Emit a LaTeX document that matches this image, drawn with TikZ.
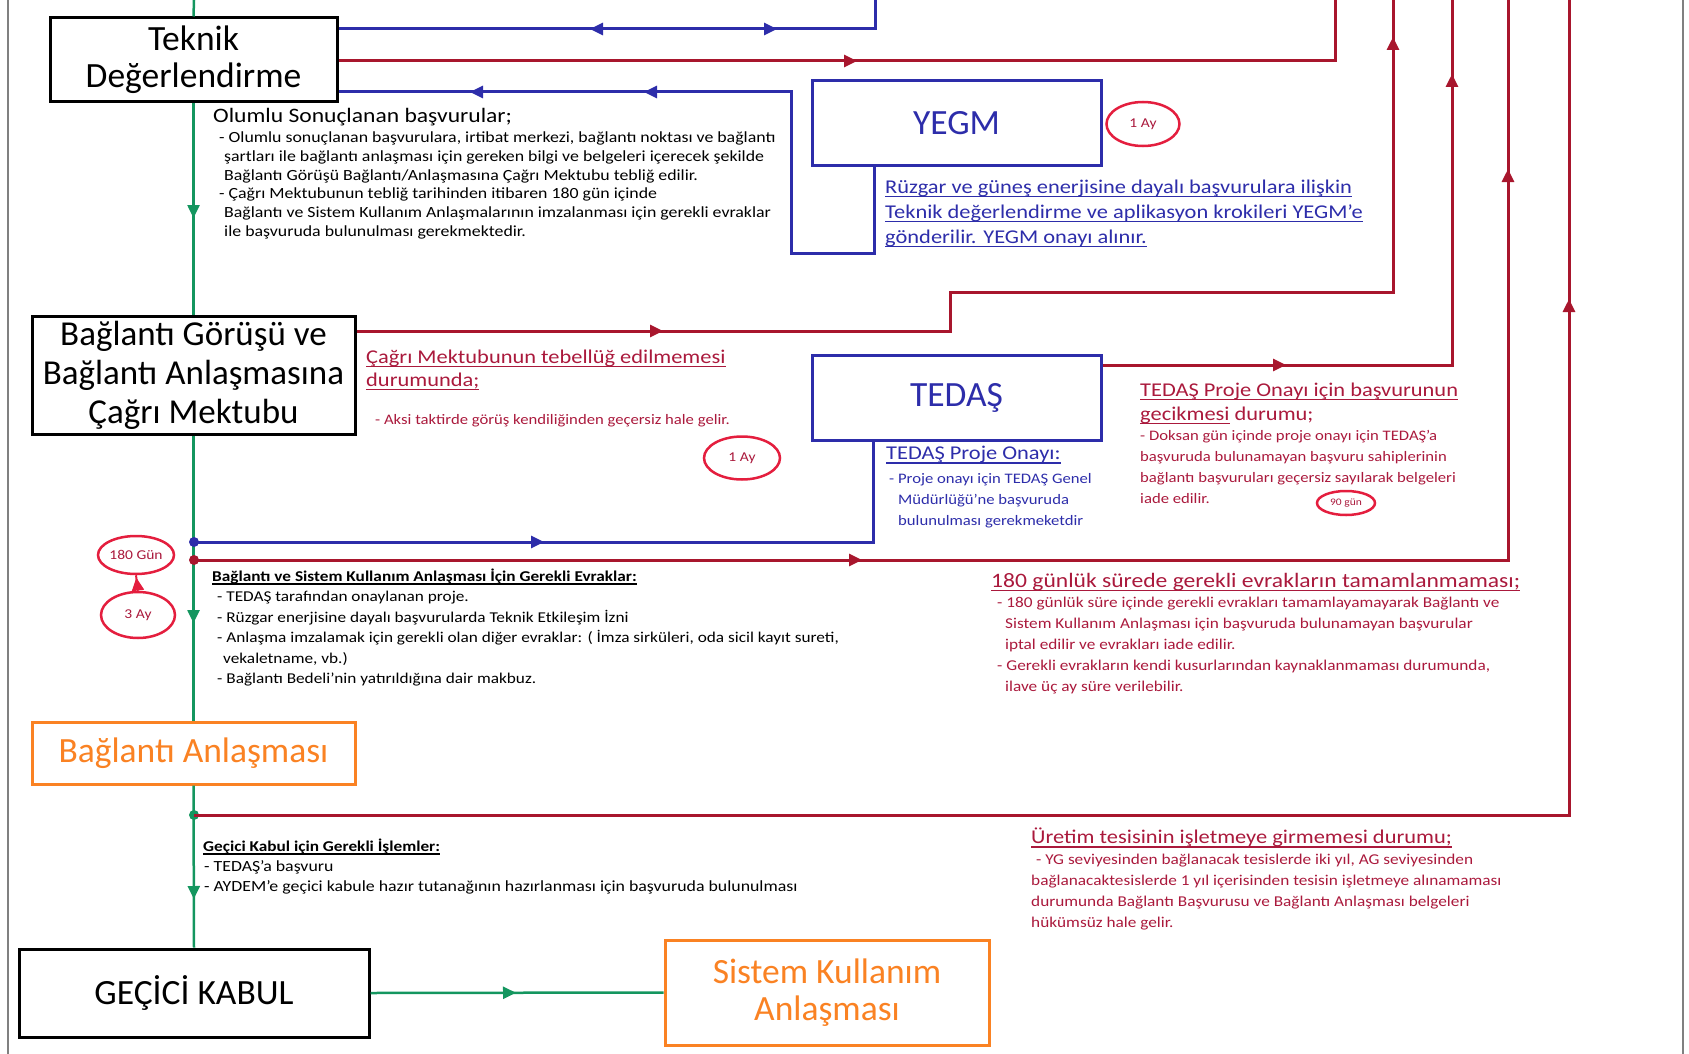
\documentclass[tikz,border=0pt]{standalone}
\usepackage{fontspec}
\setmainfont{Carlito}
\newfontfamily\widefont{Carlito}[FakeStretch=1.15]
\usetikzlibrary{arrows.meta,%
                shapes.geometric,decorations.markings}

\definecolor{lineblue}{RGB}{45,45,170}
\definecolor{linered}{RGB}{168,22,45}
\definecolor{ovalred}{RGB}{228,30,62}
\definecolor{textred}{RGB}{170,25,60}
\definecolor{trunkgreen}{RGB}{20,150,95}
\definecolor{boxorange}{RGB}{250,130,35}
\newsavebox{\ulbox}
\newcommand{\uln}[1]{\sbox{\ulbox}{#1}\rlap{\rule[-0.2em]{\wd\ulbox}{1.4pt}}\usebox{\ulbox}}
\newcommand{\fs}[2]{\widefont\fontsize{#1}{#2}\selectfont}

\tikzset{
  box/.style={draw, line width=3pt, fill=white, align=center, inner sep=0pt,
              font=\fontsize{35.5}{38}\selectfont},
  oval/.style={ellipse, draw=ovalred, line width=2.5pt, fill=white, inner sep=0pt,
               text=textred, font=\fs{13.5}{14}},
  txt/.style={anchor=north west, inner sep=0pt, align=left},
  hdr/.style={anchor=west, inner sep=0pt},
  bl/.style={draw=lineblue, line width=3pt},
  rl/.style={draw=linered, line width=3pt},
  gl/.style={draw=trunkgreen, line width=2.5pt},
  fwd/.style={postaction={decorate,decoration={markings,
      mark=at position #1 with {\arrow{Triangle[length=13pt,width=12pt]}}}}},
  bwd/.style={postaction={decorate,decoration={markings,
      mark=at position #1 with {\arrowreversed{Triangle[length=13pt,width=12pt]}}}}},
  joint/.style={circle, inner sep=0pt, minimum size=10pt},
}

\begin{document}
\begin{tikzpicture}[x=1pt,y=-1pt]
\useasboundingbox (0,0) rectangle (1689,1054);
%\draw[help lines] (0,0) grid[step=100] (1689,1054);
\draw[gray, line width=2.5pt] (8,0) -- (8,1054);
\draw[gray, line width=2.5pt] (1683,0) -- (1683,1054);

\node[box, minimum width=287pt, minimum height=84pt, font=\fontsize{35.5}{37}\selectfont] (teknik) at (193.5,60) {Teknik\\Değerlendirme};
\node[box, minimum width=323pt, minimum height=118pt, font=\fontsize{35}{39}\selectfont] (gorus) at (193.5,375) {Bağlantı Görüşü ve\\Bağlantı Anlaşmasına\\Çağrı Mektubu};
\node[box, draw=boxorange, text=boxorange, minimum width=323pt, minimum height=62pt] (anlasma) at (193.5,753) {Bağlantı Anlaşması};
\node[box, minimum width=350pt, minimum height=88pt] (gecici) at (194,993) {GEÇİCİ KABUL};
\node[box, draw=boxorange, text=boxorange, minimum width=324pt, minimum height=105pt, font=\fontsize{35.5}{37}\selectfont] (sistem) at (827,992.5) {Sistem Kullanım\\Anlaşması};
\node[box, draw=lineblue, text=lineblue, minimum width=289pt, minimum height=84pt] (yegm) at (956.5,123) {YEGM};
\node[box, draw=lineblue, text=lineblue, minimum width=289pt, minimum height=85pt] (tedas) at (956.5,397.5) {TEDAŞ};

\coordinate (trtop) at (194,0);
\coordinate (b1top) at (875,0);
\coordinate (r1top) at (1335,0);
\coordinate (r2top) at (1393,0);
\coordinate (r3top) at (1452,0);
\coordinate (r4top) at (1508,0);
\coordinate (r5top) at (1569,0);
\coordinate (b2knee) at (791,253);
\coordinate (r2knee) at (950,292);

\draw[gl] (trtop) -- (teknik.north);
\draw[gl, fwd=114.5pt] (teknik.south) -- (gorus.north);
\draw[gl, fwd=187.5pt] (gorus.south) -- (anlasma.north);
\draw[gl, fwd=113.5pt] (anlasma.south) -- (gecici.north);
\draw[gl, fwd=145.5pt] (gecici.east) -- (sistem.west);

\node[joint, fill=lineblue] (jb) at (194,542) {};
\node[joint, fill=linered] (jr) at (194,560) {};
\node[joint, fill=trunkgreen] (jg) at (194,815) {};

\draw[bl, bwd=251.5pt, fwd=438.5pt] (teknik.east |- 0,29) -| (b1top);
\draw[rl, fwd=518.5pt] (teknik.east |- 0,61) -| (r1top);
\draw[bl, bwd=131.5pt, bwd=305.5pt] (teknik.east |- 0,92) -| (b2knee) -| ([xshift=64pt]yegm.south west);
\draw[rl, fwd=306.5pt, fwd=1330.5pt] (gorus.east |- 0,331) -| (r2knee) -| (r2top);
\draw[rl, fwd=183.5pt, fwd=640.5pt] (tedas.east |- 0,365) -| (r3top);
\draw[bl, fwd=350pt] (jb.center) -| ([xshift=63pt]tedas.south west);
\draw[rl, fwd=668pt, fwd=1705pt] (jr.center) -| (r4top);
\draw[rl, fwd=1891pt] (jg.center) -| (r5top);

\node[oval, minimum width=73pt, minimum height=44pt] (ay1) at (1143,124) {1 Ay};
\node[oval, minimum width=76pt, minimum height=43pt] (ay2) at (742,458) {1 Ay};
\node[oval, minimum width=58pt, minimum height=24pt, font=\fs{10}{11}] (gun90) at (1346,503) {90 gün};
\node[oval, minimum width=76pt, minimum height=38pt] (gun180) at (136,555) {180 Gün};
\node[oval, minimum width=74pt, minimum height=46pt] (ay3) at (138,615) {3 Ay};
\draw[draw=ovalred, line width=2pt, fwd=0.85] (ay3.north) -- (gun180.south);

\node[hdr, font=\fs{20.5}{24}] (olumlu) at (213,117) {Olumlu Sonuçlanan başvurular;};
\node[txt, font=\fs{15.5}{18.7}] (olumlutxt) at (219,129.5) {\strut- Olumlu sonuçlanan başvurulara, irtibat merkezi, bağlantı noktası ve bağlantı\\
\hspace*{5pt}şartları ile bağlantı anlaşması için gereken bilgi ve belgeleri içerecek şekilde\\
\hspace*{5pt}Bağlantı Görüşü Bağlantı/Anlaşmasına Çağrı Mektubu tebliğ edilir.\\
- Çağrı Mektubunun tebliğ tarihinden itibaren 180 gün içinde\\
\hspace*{5pt}Bağlantı ve Sistem Kullanım Anlaşmalarının imzalanması için gerekli evraklar\\
\hspace*{5pt}ile başvuruda bulunulması gerekmektedir.};

\node[txt, text=lineblue, font=\fs{19.5}{25}] (yegmtxt) at (885,175.3) {\strut\uln{Rüzgar ve güneş enerjisine dayalı başvurulara ilişkin}\\
\uln{Teknik değerlendirme ve aplikasyon krokileri YEGM’e}\\
\uln{gönderilir. YEGM onayı alınır.}};

\node[txt, text=textred, font=\fs{19.5}{23}] (gorustxt) at (366,347) {\strut\uln{Çağrı Mektubunun tebellüğ edilmemesi}\\
\uln{durumunda;}};
\node[hdr, text=textred, font=\fs{14.5}{17}] (aksi) at (375,421) {- Aksi taktirde görüş kendiliğinden geçersiz hale gelir.};

\node[hdr, text=lineblue, font=\fs{19.5}{23}] (onay) at (886,455) {\uln{TEDAŞ Proje Onayı:}};
\node[txt, text=lineblue, font=\fs{14.5}{21}] (onaytxt) at (889,468.6) {\strut- Proje onayı için TEDAŞ Genel\\
\hspace*{9pt}Müdürlüğü’ne başvuruda\\
\hspace*{9pt}bulunulması gerekmeketdir};

\node[txt, text=textred, font=\fs{19.5}{24}] (gecikme) at (1140,379) {\strut\uln{TEDAŞ Proje Onayı için başvurunun}\\
\uln{gecikmesi} durumu;};
\node[txt, text=textred, font=\fs{14.5}{21}] (gecikmetxt) at (1140,425.6) {\strut- Doksan gün içinde proje onayı için TEDAŞ’a\\
başvuruda bulunamayan başvuru sahiplerinin\\
bağlantı başvuruları geçersiz sayılarak belgeleri\\
iade edilir.};

\node[hdr, font=\fs{15}{18}\bfseries] (evrak) at (212,577) {\uln{Bağlantı ve Sistem Kullanım Anlaşması İçin Gerekli Evraklar:}};
\node[txt, font=\fs{15}{20.5}] (evraktxt) at (217,587.2) {\strut- TEDAŞ tarafından onaylanan proje.\\
- Rüzgar enerjisine dayalı başvurularda Teknik Etkileşim İzni\\
- Anlaşma imzalamak için gerekli olan diğer evraklar: ( İmza sirküleri, oda sicil kayıt sureti,\\
\hspace*{6pt}vekaletname, vb.)\\
- Bağlantı Bedeli’nin yatırıldığına dair makbuz.};

\node[hdr, text=textred, font=\fs{20.5}{24}] (sure) at (991,582) {\uln{180 günlük sürede gerekli evrakların tamamlanmaması;}};
\node[txt, text=textred, font=\fs{15}{21}] (suretxt) at (997,592.8) {\strut- 180 günlük süre içinde gerekli evrakları tamamlayamayarak Bağlantı ve\\
\hspace*{8pt}Sistem Kullanım Anlaşması için başvuruda bulunamayan başvurular\\
\hspace*{8pt}iptal edilir ve evrakları iade edilir.\\
- Gerekli evrakların kendi kusurlarından kaynaklanmaması durumunda,\\
\hspace*{8pt}ilave üç ay süre verilebilir.};

\node[hdr, font=\fs{15}{18}\bfseries] (islem) at (203,847) {\uln{Geçici Kabul için Gerekli İşlemler:}};
\node[txt, font=\fs{15.5}{20}] (islemtxt) at (204,857.6) {\strut- TEDAŞ’a başvuru\\
- AYDEM’e geçici kabule hazır tutanağının hazırlanması için başvuruda bulunulması};

\node[hdr, text=textred, font=\fs{19.5}{24}] (uretim) at (1031,838) {\uln{Üretim tesisinin işletmeye girmemesi durumu;}};
\node[txt, text=textred, font=\fs{15}{21}] (uretimtxt) at (1031,849.8) {\strut\hspace*{5pt}- YG seviyesinden bağlanacak tesislerde iki yıl, AG seviyesinden\\
bağlanacaktesislerde 1 yıl içerisinden tesisin işletmeye alınamaması\\
durumunda Bağlantı Başvurusu ve Bağlantı Anlaşması belgeleri\\
hükümsüz hale gelir.};
\end{tikzpicture}
\end{document}
